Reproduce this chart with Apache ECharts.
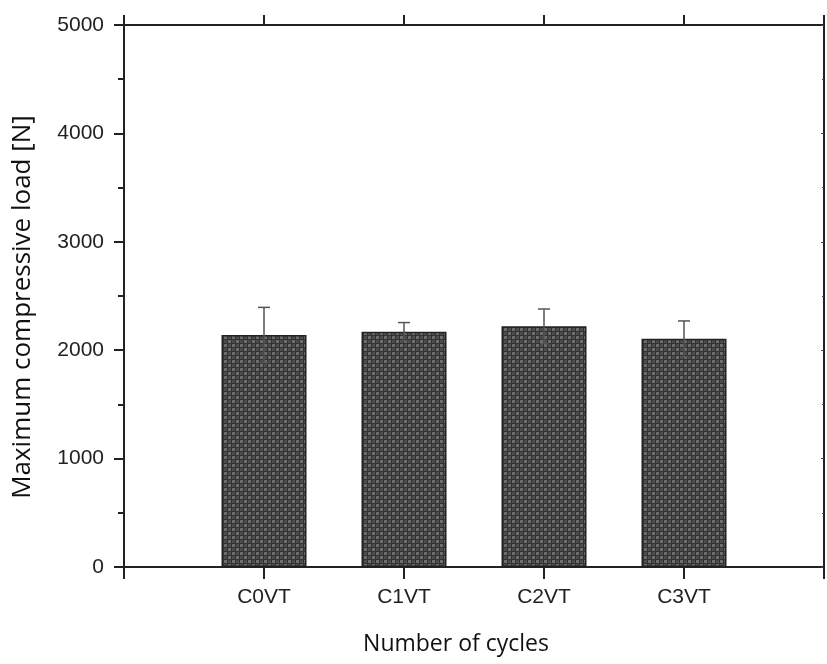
<!DOCTYPE html>
<html>
<head>
<meta charset="utf-8">
<script src="https://cdn.jsdelivr.net/npm/echarts@6/dist/echarts.min.js"></script>
<style>html,body{margin:0;padding:0;background:#fff}#c{width:827px;height:664px}</style>
</head>
<body>
<div id="c"></div>
<script>
const categories = ['C0VT', 'C1VT', 'C2VT', 'C3VT'];
const loads = [2140, 2170, 2220, 2105];
const errors = [255, 85, 160, 165];
const yTicks = [0, 1000, 2000, 3000, 4000, 5000];

// checkered fill pattern
const pc = document.createElement('canvas');
pc.width = 8; pc.height = 8;
const g = pc.getContext('2d');
g.fillStyle = '#333333'; g.fillRect(0, 0, 8, 8);
g.fillStyle = '#6e6e6e'; g.fillRect(0, 0, 3, 3); g.fillRect(4, 4, 3, 3);
g.fillStyle = '#4c4c4c'; g.fillRect(4, 0, 3, 3); g.fillRect(0, 4, 3, 3);

const barData = categories.map((c, i) => [i + 1, loads[i]]);
const errData = categories.map((c, i) => [i + 1, loads[i] - errors[i], loads[i] + errors[i]]);

const chart = echarts.init(document.getElementById('c'), null, {renderer: 'canvas'});
const axisLine = {show: true, onZero: false, lineStyle: {color: '#222', width: 2}};
chart.setOption({
  animation: false,
  grid: {left: 124, right: 1, top: 25, bottom: 97, containLabel: false},
  xAxis: [{
    type: 'value', min: 0, max: 5, interval: 1, position: 'bottom',
    axisLine: axisLine,
    axisTick: {show: true, length: 12, inside: false, lineStyle: {color: '#222', width: 2}},
    splitLine: {show: false},
    axisLabel: {
      margin: 20, fontSize: 21, color: '#222', fontFamily: 'Liberation Sans, Arial',
      formatter: v => (v >= 1 && v <= 4) ? categories[v - 1] : ''
    },
    name: 'Number of cycles', nameLocation: 'middle', nameGap: 66,
    nameTextStyle: {fontSize: 23, color: '#111', fontFamily: 'Open Sans, Noto Sans', padding: [0, 36, 0, 0]}
  }, {
    type: 'value', min: 0, max: 5, interval: 1, position: 'top',
    axisLine: axisLine,
    axisTick: {show: true, length: 10, inside: false, lineStyle: {color: '#222', width: 2}},
    splitLine: {show: false}, axisLabel: {show: false}
  }],
  yAxis: [{
    type: 'value', min: 0, max: 5000, interval: 1000, position: 'left',
    axisLine: axisLine,
    axisTick: {show: true, length: 10, inside: false, lineStyle: {color: '#222', width: 2}},
    minorTick: {show: true, splitNumber: 2, length: 6, lineStyle: {color: '#222', width: 2}},
    splitLine: {show: false},
    axisLabel: {margin: 20, fontSize: 21, color: '#222', fontFamily: 'Liberation Sans, Arial',
      formatter: v => yTicks.includes(v) ? String(v) : ''},
    name: 'Maximum compressive load [N]', nameLocation: 'middle', nameGap: 88, nameRotate: 90,
    nameTextStyle: {fontSize: 26, color: '#111', fontFamily: 'Open Sans, Noto Sans', padding: [0, 22, 0, 0]}
  }, {
    type: 'value', min: 0, max: 5000, interval: 1000, position: 'right',
    axisLine: axisLine,
    axisTick: {show: true, length: 3, inside: true, lineStyle: {color: '#444', width: 1}},
    minorTick: {show: true, splitNumber: 2, length: 2, lineStyle: {color: '#444', width: 1}},
    splitLine: {show: false}, axisLabel: {show: false}
  }],
  series: [{
    type: 'bar', xAxisIndex: 0, yAxisIndex: 0, data: barData, barWidth: 85,
    itemStyle: {color: {image: pc, repeat: 'repeat'}, borderColor: '#222', borderWidth: 1.5}
  }, {
    type: 'custom', xAxisIndex: 0, yAxisIndex: 0, data: errData, z: 10,
    renderItem: function (params, api) {
      const x = api.value(0);
      const lo = api.coord([x, api.value(1)]);
      const hi = api.coord([x, api.value(2)]);
      const hw = 6;
      const st = {stroke: '#555', lineWidth: 1.5};
      return {type: 'group', children: [
        {type: 'line', shape: {x1: lo[0], y1: lo[1], x2: hi[0], y2: hi[1]}, style: st},
        {type: 'line', shape: {x1: hi[0] - hw, y1: hi[1], x2: hi[0] + hw, y2: hi[1]}, style: st},
        {type: 'line', shape: {x1: lo[0] - 4, y1: lo[1], x2: lo[0] + 4, y2: lo[1]}, style: st}
      ]};
    }
  }]
});
</script>
</body>
</html>
